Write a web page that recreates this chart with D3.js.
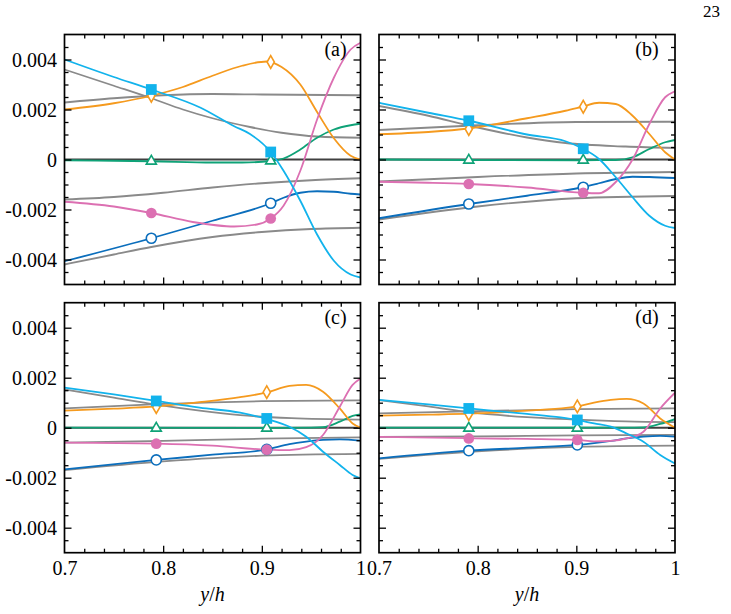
<!DOCTYPE html>
<html>
<head>
<meta charset="utf-8">
<script src="https://cdn.jsdelivr.net/npm/d3@7"></script>
<style>
body { margin: 0; background: #fff; }
</style>
</head>
<body>
<svg id="chart" width="731" height="614"></svg>
<script>
// values are in units of 1e-3, x is y/h

// panel (a)
const aCyan = [[0.7,4.0],[0.75,3.3],[0.788,2.8],[0.838,2.07],[0.872,1.33],[0.888,1.02],[0.909,0.3],[0.922,-0.45],[0.939,-1.65],[0.956,-3.0],[0.973,-4.05],[0.99,-4.6],[1.0,-4.72]];
const aOrange = [[0.7,2.0],[0.75,2.25],[0.788,2.55],[0.82,2.9],[0.85,3.35],[0.88,3.75],[0.905,3.92],[0.92,3.7],[0.939,3.0],[0.956,1.9],[0.973,0.85],[0.99,0.15],[1.0,0.0]];
const aGreen = [[0.7,-0.03],[0.75,-0.05],[0.788,-0.07],[0.85,-0.12],[0.88,-0.12],[0.909,-0.06],[0.922,0.04],[0.939,0.4],[0.956,0.87],[0.973,1.2],[0.99,1.37],[1.0,1.43]];
const aPink = [[0.7,-1.69],[0.75,-1.88],[0.788,-2.14],[0.83,-2.5],[0.872,-2.68],[0.895,-2.6],[0.909,-2.36],[0.922,-1.85],[0.939,-0.45],[0.956,1.6],[0.973,3.27],[0.99,4.4],[1.0,4.67]];
const aBlue = [[0.7,-4.07],[0.788,-3.15],[0.85,-2.45],[0.909,-1.75],[0.922,-1.53],[0.939,-1.33],[0.956,-1.27],[0.973,-1.29],[0.99,-1.37],[1.0,-1.4]];
const aGray1 = [[0.7,2.28],[0.75,2.45],[0.8,2.57],[0.85,2.62],[0.9,2.6],[1.0,2.57]];
const aGray2 = [[0.7,3.6],[0.75,2.95],[0.788,2.45],[0.82,2.0],[0.85,1.65],[0.888,1.3],[0.92,1.07],[0.956,0.92],[1.0,0.87]];
const aGray3 = [[0.7,-1.6],[0.75,-1.5],[0.8,-1.33],[0.85,-1.12],[0.9,-0.95],[0.95,-0.83],[1.0,-0.75]];
const aGray4 = [[0.7,-4.2],[0.75,-3.8],[0.788,-3.5],[0.85,-3.1],[0.9,-2.9],[0.95,-2.78],[1.0,-2.73]];
const aMarkX = [0.788, 0.909];
const aSquares = [2.8, 0.3], aDiamonds = [2.55, 3.9], aTriangles = [-0.07, -0.06], aDots = [-2.14, -2.36], aRings = [-3.15, -1.75];

// panel (b)
const bCyan = [[0.7,2.27],[0.75,1.87],[0.791,1.55],[0.85,1.0],[0.889,0.73],[0.906,0.45],[0.923,0.02],[0.94,-0.71],[0.957,-1.51],[0.974,-2.25],[0.99,-2.65],[1.0,-2.74]];
const bOrange = [[0.7,1.01],[0.75,1.1],[0.791,1.24],[0.85,1.65],[0.889,1.95],[0.906,2.11],[0.923,2.27],[0.94,2.22],[0.957,1.75],[0.974,1.02],[0.99,0.29],[1.0,0.0]];
const bGreen = [[0.7,0.0],[0.79,-0.02],[0.906,-0.03],[0.94,-0.02],[0.957,0.09],[0.974,0.42],[0.99,0.69],[1.0,0.78]];
const bPink = [[0.7,-0.89],[0.75,-0.93],[0.791,-0.98],[0.85,-1.12],[0.906,-1.33],[0.923,-1.35],[0.94,-0.9],[0.957,0.0],[0.974,1.42],[0.99,2.49],[1.0,2.73]];
const bBlue = [[0.7,-2.35],[0.791,-1.78],[0.85,-1.45],[0.906,-1.11],[0.923,-0.95],[0.94,-0.78],[0.957,-0.69],[0.974,-0.7],[1.0,-0.74]];
const bGray1 = [[0.7,1.18],[0.8,1.37],[0.9,1.5],[1.0,1.51]];
const bGray2 = [[0.7,2.14],[0.75,1.75],[0.791,1.36],[0.85,0.88],[0.889,0.66],[0.95,0.52],[1.0,0.46]];
const bGray3 = [[0.7,-0.88],[0.8,-0.7],[0.9,-0.56],[1.0,-0.5]];
const bGray4 = [[0.7,-2.4],[0.8,-1.88],[0.9,-1.55],[1.0,-1.46]];
const bMarkX = [0.791, 0.907];
const bSquares = [1.55, 0.43], bDiamonds = [1.22, 2.11], bTriangles = [-0.03, -0.03], bDots = [-0.98, -1.33], bRings = [-1.78, -1.11];

// panel (c)
const cCyan = [[0.7,1.6],[0.75,1.33],[0.793,1.07],[0.837,0.8],[0.878,0.6],[0.905,0.35],[0.928,0.04],[0.945,-0.36],[0.962,-0.96],[0.979,-1.49],[0.992,-1.89],[1.0,-2.03]];
const cOrange = [[0.7,0.68],[0.75,0.76],[0.793,0.85],[0.837,1.02],[0.878,1.22],[0.905,1.41],[0.928,1.67],[0.945,1.71],[0.962,1.44],[0.979,0.77],[0.992,0.17],[1.0,0.0]];
const cGreen = [[0.7,0.0],[0.9,-0.01],[0.95,0.0],[0.962,0.02],[0.979,0.24],[0.992,0.47],[1.0,0.53]];
const cPink = [[0.7,-0.6],[0.793,-0.64],[0.85,-0.72],[0.905,-0.88],[0.928,-0.9],[0.945,-0.78],[0.962,-0.29],[0.979,0.84],[0.992,1.71],[1.0,1.97]];
const cBlue = [[0.7,-1.67],[0.793,-1.29],[0.85,-1.08],[0.905,-0.87],[0.928,-0.66],[0.945,-0.56],[0.962,-0.49],[0.979,-0.47],[1.0,-0.52]];
const cGray1 = [[0.7,0.77],[0.8,0.95],[0.9,1.06],[1.0,1.09]];
const cGray2 = [[0.7,1.53],[0.75,1.2],[0.793,0.92],[0.837,0.68],[0.878,0.5],[0.93,0.38],[1.0,0.32]];
const cGray3 = [[0.7,-0.6],[0.8,-0.53],[0.9,-0.44],[1.0,-0.39]];
const cGray4 = [[0.7,-1.7],[0.8,-1.35],[0.9,-1.12],[1.0,-1.05]];
const cMarkX = [0.793, 0.905];
const cSquares = [1.07, 0.37], cDiamonds = [0.82, 1.42], cTriangles = [-0.02, -0.02], cDots = [-0.64, -0.88], cRings = [-1.29, -0.87];

// panel (d)
const dCyan = [[0.7,1.11],[0.75,0.93],[0.791,0.77],[0.85,0.55],[0.884,0.41],[0.901,0.31],[0.918,0.17],[0.935,0.04],[0.951,-0.23],[0.968,-0.56],[0.985,-1.09],[1.0,-1.43]];
const dOrange = [[0.7,0.48],[0.75,0.52],[0.791,0.56],[0.85,0.68],[0.901,0.85],[0.918,1.0],[0.935,1.11],[0.951,1.15],[0.968,0.97],[0.985,0.37],[1.0,0.0]];
const dGreen = [[0.7,0.0],[0.95,0.0],[0.968,0.01],[0.985,0.15],[1.0,0.34]];
const dPink = [[0.7,-0.37],[0.791,-0.42],[0.85,-0.45],[0.901,-0.49],[0.918,-0.55],[0.935,-0.53],[0.951,-0.43],[0.968,-0.16],[0.985,0.77],[1.0,1.4]];
const dBlue = [[0.7,-1.23],[0.791,-0.92],[0.85,-0.8],[0.901,-0.69],[0.918,-0.62],[0.935,-0.53],[0.951,-0.43],[0.968,-0.36],[0.985,-0.33],[1.0,-0.36]];
const dGray1 = [[0.7,0.57],[0.8,0.66],[0.9,0.74],[1.0,0.77]];
const dGray2 = [[0.7,1.1],[0.75,0.85],[0.791,0.62],[0.85,0.42],[0.9,0.32],[0.95,0.25],[1.0,0.22]];
const dGray3 = [[0.7,-0.37],[0.8,-0.35],[0.9,-0.31],[1.0,-0.29]];
const dGray4 = [[0.7,-1.25],[0.8,-0.95],[0.9,-0.77],[1.0,-0.72]];
const dMarkX = [0.791, 0.901];
const dSquares = [0.77, 0.31], dDiamonds = [0.54, 0.85], dTriangles = [-0.02, -0.02], dDots = [-0.43, -0.49], dRings = [-0.92, -0.69];

const zeroLine = [[0.7,0],[1.0,0]];

const xTicks = [0.7, 0.8, 0.9, 1.0];
const xTickLabels = ["0.7", "0.8", "0.9", "1"];
const xMinor = [0.72,0.74,0.76,0.78,0.82,0.84,0.86,0.88,0.92,0.94,0.96,0.98];
const yTicks = [-4, -2, 0, 2, 4];
const yTickLabels = ["-0.004", "-0.002", "0", "0.002", "0.004"];
const yMinor = [-4.5,-3.5,-3,-2.5,-1.5,-1,-0.5,0.5,1,1.5,2.5,3,3.5,4.5];

const col = {
  cyan: "#12b3ec",
  orange: "#f59a1e",
  green: "#0fa277",
  pink: "#dc70b2",
  blue: "#0b6ebc",
  gray: "#8a8a8a",
  zero: "#404040"
};

const serif = '"Liberation Serif"';

const W = 296, H = 250;

const panels = [
  {name: "(a)", left: 64.5, top: 34.5, yLab: true, xLab: false, gray: [aGray1, aGray2, aGray3, aGray4],
   cyan: aCyan, orange: aOrange, green: aGreen, pink: aPink, blue: aBlue,
   mx: aMarkX, sq: aSquares, di: aDiamonds, tr: aTriangles, dot: aDots, ring: aRings, labX: 271},
  {name: "(b)", left: 379, top: 34.5, yLab: false, xLab: false, gray: [bGray1, bGray2, bGray3, bGray4],
   cyan: bCyan, orange: bOrange, green: bGreen, pink: bPink, blue: bBlue,
   mx: bMarkX, sq: bSquares, di: bDiamonds, tr: bTriangles, dot: bDots, ring: bRings, labX: 268},
  {name: "(c)", left: 64.5, top: 302.7, yLab: true, xLab: true, gray: [cGray1, cGray2, cGray3, cGray4],
   cyan: cCyan, orange: cOrange, green: cGreen, pink: cPink, blue: cBlue,
   mx: cMarkX, sq: cSquares, di: cDiamonds, tr: cTriangles, dot: cDots, ring: cRings, labX: 271},
  {name: "(d)", left: 379, top: 302.7, yLab: false, xLab: true, gray: [dGray1, dGray2, dGray3, dGray4],
   cyan: dCyan, orange: dOrange, green: dGreen, pink: dPink, blue: dBlue,
   mx: dMarkX, sq: dSquares, di: dDiamonds, tr: dTriangles, dot: dDots, ring: dRings, labX: 268}
];

const svg = d3.select("#chart");

svg.append("text")
  .attr("x", 720).attr("y", 17)
  .attr("text-anchor", "end")
  .style("font-family", serif)
  .style("font-size", "17px")
  .text("23");

let x = d3.scaleLinear().domain([0.7, 1]).range([0, W]);
let y = d3.scaleLinear().domain([-5, 5]).range([H, 0]);

let line = d3.line()
  .x(d => x(d[0]))
  .y(d => y(d[1]))
  .curve(d3.curveMonotoneX);

panels.forEach((p, i) => {
  let g = svg.append("g").attr("transform", `translate(${p.left},${p.top})`);

  g.append("clipPath").attr("id", "clip" + i)
    .append("rect").attr("width", W).attr("height", H);

  let plot = g.append("g").attr("clip-path", `url(#clip${i})`);

  plot.selectAll(".gray")
    .data(p.gray)
    .enter()
    .append("path")
    .attr("d", line)
    .attr("fill", "none")
    .attr("stroke", col.gray)
    .attr("stroke-width", 1.8);

  plot.append("path")
    .datum(zeroLine)
    .attr("d", line)
    .attr("fill", "none")
    .attr("stroke", col.zero)
    .attr("stroke-width", 2);

  ["green", "orange", "blue", "pink", "cyan"].forEach(k => {
    plot.append("path")
      .datum(p[k])
      .attr("d", line)
      .attr("fill", "none")
      .attr("stroke", col[k])
      .attr("stroke-width", 1.8);
  });

  // markers
  let marks = [
    {vals: p.tr, type: d3.symbolTriangle, size: 44, color: col.green, open: true},
    {vals: p.di, type: d3.symbolDiamond, size: 46, color: col.orange, open: true},
    {vals: p.ring, type: d3.symbolCircle, size: 80, color: col.blue, open: true},
    {vals: p.dot, type: d3.symbolCircle, size: 90, color: col.pink, open: false},
    {vals: p.sq, type: d3.symbolSquare, size: 116, color: col.cyan, open: false}
  ];
  marks.forEach(m => {
    g.selectAll(null)
      .data(m.vals)
      .enter()
      .append("path")
      .attr("transform", (d, j) => `translate(${x(p.mx[j])},${y(d)})`)
      .attr("d", d3.symbol().type(m.type).size(m.size))
      .attr("fill", m.open ? "#fff" : m.color)
      .attr("stroke", m.color)
      .attr("stroke-width", m.open ? 1.6 : 0);
  });

  // ticks on all sides, pointing inward
  let tk = (axis, tr) => {
    let a = g.append("g").attr("transform", tr).call(axis);
    a.select(".domain").remove();
    a.selectAll("line").attr("stroke", "#000").attr("stroke-width", 1.3);
    return a;
  };
  tk(d3.axisBottom(x).tickValues(xMinor).tickSize(-4).tickFormat(""), `translate(0,${H})`);
  tk(d3.axisBottom(x).tickValues([0.8, 0.9]).tickSize(-7).tickFormat(""), `translate(0,${H})`);
  tk(d3.axisTop(x).tickValues(xMinor).tickSize(-4).tickFormat(""), "translate(0,0)");
  tk(d3.axisTop(x).tickValues([0.8, 0.9]).tickSize(-7).tickFormat(""), "translate(0,0)");
  tk(d3.axisLeft(y).tickValues(yMinor).tickSize(-4).tickFormat(""), "translate(0,0)");
  tk(d3.axisLeft(y).tickValues(yTicks).tickSize(-7).tickFormat(""), "translate(0,0)");
  tk(d3.axisRight(y).tickValues(yMinor).tickSize(-4).tickFormat(""), `translate(${W},0)`);
  tk(d3.axisRight(y).tickValues(yTicks).tickSize(-7).tickFormat(""), `translate(${W},0)`);

  if (p.yLab) {
    let ya = g.append("g")
      .call(d3.axisLeft(y).tickValues(yTicks).tickSize(0).tickPadding(7.5)
        .tickFormat((d, j) => yTickLabels[j]));
    ya.select(".domain").remove();
    ya.selectAll("text")
      .attr("fill", "#000").attr("dy", "0.33em")
      .style("font-family", serif).style("font-size", "20px");
  }
  if (p.xLab) {
    let xa = g.append("g").attr("transform", `translate(0,${H})`)
      .call(d3.axisBottom(x).tickValues(xTicks).tickSize(0).tickPadding(8)
        .tickFormat((d, j) => xTickLabels[j]));
    xa.select(".domain").remove();
    xa.selectAll("text")
      .attr("fill", "#000")
      .style("font-family", serif).style("font-size", "20px");

    let t = g.append("text")
      .attr("x", W / 2).attr("y", H + 48)
      .attr("text-anchor", "middle")
      .style("font-family", serif)
      .style("font-size", "20px");
    t.append("tspan").style("font-style", "italic").text("y");
    t.append("tspan").text("/");
    t.append("tspan").style("font-style", "italic").text("h");
  }

  g.append("rect")
    .attr("width", W).attr("height", H)
    .attr("fill", "none")
    .attr("stroke", "#000")
    .attr("stroke-width", 1.7);

  g.append("text")
    .attr("x", p.labX).attr("y", 21)
    .attr("text-anchor", "middle")
    .style("font-family", serif)
    .style("font-size", "20px")
    .text(p.name);
});
</script>
</body>
</html>
